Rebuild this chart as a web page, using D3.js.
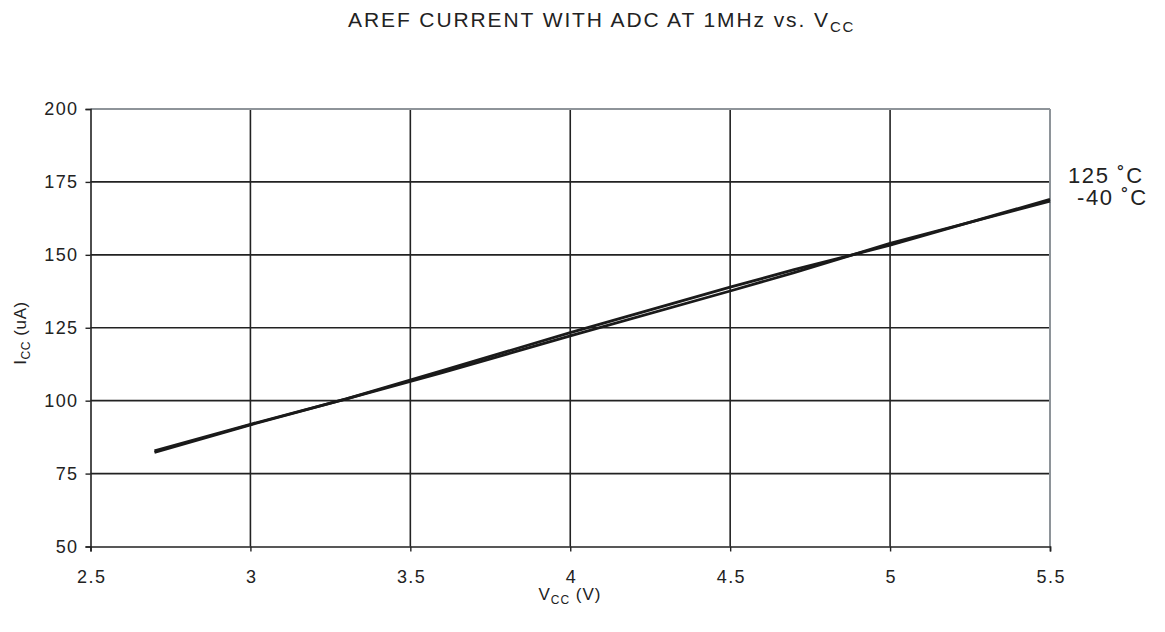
<!DOCTYPE html>
<html>
<head>
<meta charset="utf-8">
<script src="https://cdn.jsdelivr.net/npm/d3@7"></script>
<style>
  html, body { margin: 0; padding: 0; background: #fff; }
  svg { display: block; font-family: "Liberation Sans", Arial, sans-serif; }
</style>
</head>
<body>
<svg id="chart" width="1165" height="632"></svg>
<script>
// ---- data ----
const vcc = [2.7, 3.0, 3.3, 3.6, 4.0, 4.5, 4.7, 5.0, 5.5];
const seriesNames = ["125 ˚C", "-40 ˚C"];
const icc125 = [82.3, 91.7, 100.6, 110.3, 123.3, 138.9, 144.9, 153.3, 169.0];
const iccM40 = [82.8, 91.9, 100.6, 109.6, 122.2, 137.6, 143.9, 153.9, 168.4];
const xTicks = [2.5, 3, 3.5, 4, 4.5, 5, 5.5];
const yTicks = [50, 75, 100, 125, 150, 175, 200];

const svg = d3.select("#chart");
const L = 90.5, R = 1050, T = 109, B = 546.5;

const x = d3.scaleLinear().domain([2.5, 5.5]).range([L, R]);
const y = d3.scaleLinear().domain([50, 200]).range([B, T]);

// gridlines
const g = svg.append("g");
g.selectAll("line.vg").data(xTicks.slice(1, -1)).enter().append("line")
  .attr("x1", d => x(d)).attr("x2", d => x(d)).attr("y1", T).attr("y2", B)
  .attr("stroke", "#222").attr("stroke-width", 1.6);
g.selectAll("line.hg").data(yTicks.slice(1, -1)).enter().append("line")
  .attr("x1", L).attr("x2", R).attr("y1", d => y(d)).attr("y2", d => y(d))
  .attr("stroke", "#222").attr("stroke-width", 1.6);
// top and right border (gray)
g.append("line").attr("x1", L).attr("x2", R).attr("y1", T).attr("y2", T)
  .attr("stroke", "#8e9499").attr("stroke-width", 2);
g.append("line").attr("x1", R).attr("x2", R).attr("y1", T).attr("y2", B)
  .attr("stroke", "#8e9499").attr("stroke-width", 2);

// axes
const xAxis = d3.axisBottom(x).tickValues(xTicks).tickFormat(d3.format("")).tickSize(5).tickPadding(19);
const yAxis = d3.axisLeft(y).tickValues(yTicks).tickFormat(d3.format("")).tickSize(5).tickPadding(7);
const gx = svg.append("g").attr("transform", `translate(0,${B})`).call(xAxis);
const gy = svg.append("g").attr("transform", `translate(${L},0)`).call(yAxis);
[gx, gy].forEach(a => {
  a.attr("font-size", null).attr("font-family", null);
  a.select(".domain").attr("stroke", "#222").attr("stroke-width", 1.6);
  a.selectAll(".tick line").attr("stroke", "#222").attr("stroke-width", 1.4);
  a.selectAll(".tick text").attr("fill", "#222")
    .style("font-size", "18px").style("letter-spacing", "1.4px");
});
gx.selectAll(".tick text").attr("dx", "0.7px");

// lines
const line = d3.line().x((d, i) => x(vcc[i])).y(d => y(d));
[icc125, iccM40].forEach(s => {
  svg.append("path").datum(s).attr("d", line)
    .attr("fill", "none").attr("stroke", "#1a1a1a").attr("stroke-width", 2.8)
    .attr("stroke-linejoin", "round");
});

// series labels
svg.append("text").attr("x", 1068).attr("y", 183).attr("fill", "#222")
  .style("font-size", "22px").style("letter-spacing", "1.6px").text(seriesNames[0]);
svg.append("text").attr("x", 1077).attr("y", 205).attr("fill", "#222")
  .style("font-size", "22px").style("letter-spacing", "1.6px").text(seriesNames[1]);

// title
const title = svg.append("text").attr("x", 348).attr("y", 27)
  .attr("fill", "#222").style("font-size", "21px").style("letter-spacing", "1.9px");
title.append("tspan").text("AREF CURRENT WITH ADC AT 1MHz vs. V");
title.append("tspan").attr("dy", 5).style("font-size", "15px").text("CC");

// x axis label
const xl = svg.append("text").attr("x", 570).attr("y", 600).attr("text-anchor", "middle")
  .attr("fill", "#222").style("font-size", "17px").style("letter-spacing", "1px");
xl.append("tspan").text("V");
xl.append("tspan").attr("dy", 4).style("font-size", "12px").text("CC");
xl.append("tspan").attr("dy", -4).text(" (V)");

// y axis label
const yl = svg.append("text").attr("transform", "translate(26,333) rotate(-90)")
  .attr("text-anchor", "middle").attr("fill", "#222").style("font-size", "17px").style("letter-spacing", "0.6px");
yl.append("tspan").text("I");
yl.append("tspan").attr("dy", 4).style("font-size", "12px").text("CC");
yl.append("tspan").attr("dy", -4).text(" (uA)");
</script>
</body>
</html>
